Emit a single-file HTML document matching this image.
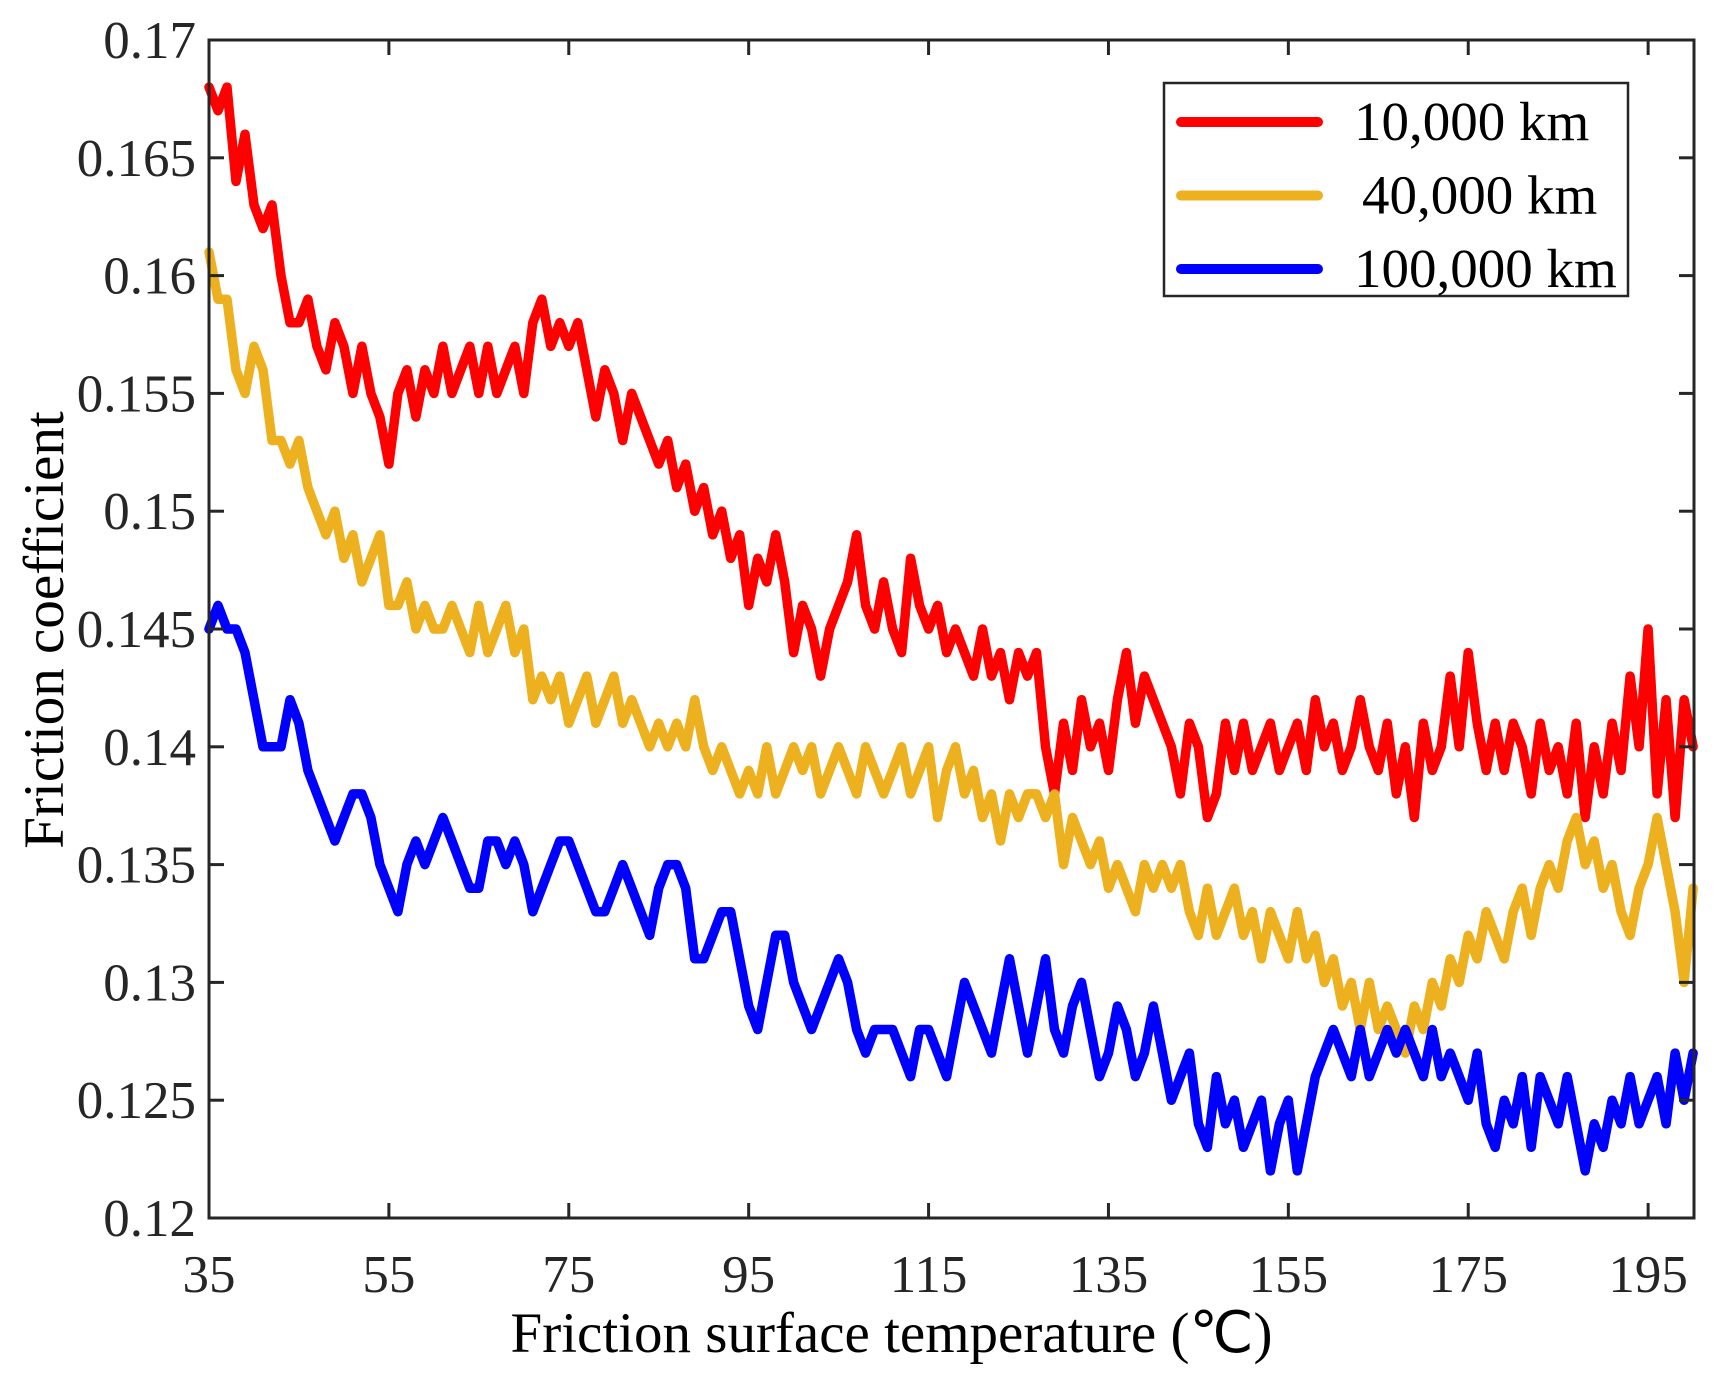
<!DOCTYPE html>
<html><head><meta charset="utf-8"><style>
html,body{margin:0;padding:0;background:#fff}
svg{display:block;font-family:"Liberation Serif",serif}
</style></head><body>
<svg id="chart" width="1724" height="1374" viewBox="0 0 1724 1374" xmlns="http://www.w3.org/2000/svg">
<g id="plot"></g><g id="axes"></g>
</svg>
<script>
const xTicks=[35,55,75,95,115,135,155,175,195];
const yTicks=[0.12,0.125,0.13,0.135,0.14,0.145,0.15,0.155,0.16,0.165,0.17];
const yTickLabels=["0.12","0.125","0.13","0.135","0.14","0.145","0.15","0.155","0.16","0.165","0.17"];
const xStart=35;
const seriesNames=["10,000 km","40,000 km","100,000 km"];
const seriesColors=["#ff0000","#edb120","#0000ff"];
const red=[0.168,0.167,0.168,0.164,0.166,0.163,0.162,0.163,0.160,0.158,0.158,0.159,0.157,0.156,0.158,0.157,0.155,0.157,0.155,0.154,0.152,0.155,0.156,0.154,0.156,0.155,0.157,0.155,0.156,0.157,0.155,0.157,0.155,0.156,0.157,0.155,0.158,0.159,0.157,0.158,0.157,0.158,0.156,0.154,0.156,0.155,0.153,0.155,0.154,0.153,0.152,0.153,0.151,0.152,0.150,0.151,0.149,0.150,0.148,0.149,0.146,0.148,0.147,0.149,0.147,0.144,0.146,0.145,0.143,0.145,0.146,0.147,0.149,0.146,0.145,0.147,0.145,0.144,0.148,0.146,0.145,0.146,0.144,0.145,0.144,0.143,0.145,0.143,0.144,0.142,0.144,0.143,0.144,0.140,0.138,0.141,0.139,0.142,0.140,0.141,0.139,0.142,0.144,0.141,0.143,0.142,0.141,0.140,0.138,0.141,0.140,0.137,0.138,0.141,0.139,0.141,0.139,0.140,0.141,0.139,0.140,0.141,0.139,0.142,0.140,0.141,0.139,0.140,0.142,0.140,0.139,0.141,0.138,0.140,0.137,0.141,0.139,0.140,0.143,0.140,0.144,0.141,0.139,0.141,0.139,0.141,0.140,0.138,0.141,0.139,0.140,0.138,0.141,0.137,0.140,0.138,0.141,0.139,0.143,0.140,0.145,0.138,0.142,0.137,0.142,0.140];
const orange=[0.161,0.159,0.159,0.156,0.155,0.157,0.156,0.153,0.153,0.152,0.153,0.151,0.150,0.149,0.150,0.148,0.149,0.147,0.148,0.149,0.146,0.146,0.147,0.145,0.146,0.145,0.145,0.146,0.145,0.144,0.146,0.144,0.145,0.146,0.144,0.145,0.142,0.143,0.142,0.143,0.141,0.142,0.143,0.141,0.142,0.143,0.141,0.142,0.141,0.140,0.141,0.140,0.141,0.140,0.142,0.140,0.139,0.140,0.139,0.138,0.139,0.138,0.140,0.138,0.139,0.140,0.139,0.140,0.138,0.139,0.140,0.139,0.138,0.140,0.139,0.138,0.139,0.140,0.138,0.139,0.140,0.137,0.139,0.140,0.138,0.139,0.137,0.138,0.136,0.138,0.137,0.138,0.138,0.137,0.138,0.135,0.137,0.136,0.135,0.136,0.134,0.135,0.134,0.133,0.135,0.134,0.135,0.134,0.135,0.133,0.132,0.134,0.132,0.133,0.134,0.132,0.133,0.131,0.133,0.132,0.131,0.133,0.131,0.132,0.130,0.131,0.129,0.130,0.128,0.130,0.128,0.129,0.128,0.127,0.129,0.128,0.130,0.129,0.131,0.130,0.132,0.131,0.133,0.132,0.131,0.133,0.134,0.132,0.134,0.135,0.134,0.136,0.137,0.135,0.136,0.134,0.135,0.133,0.132,0.134,0.135,0.137,0.135,0.133,0.130,0.134];
const blue=[0.145,0.146,0.145,0.145,0.144,0.142,0.140,0.140,0.140,0.142,0.141,0.139,0.138,0.137,0.136,0.137,0.138,0.138,0.137,0.135,0.134,0.133,0.135,0.136,0.135,0.136,0.137,0.136,0.135,0.134,0.134,0.136,0.136,0.135,0.136,0.135,0.133,0.134,0.135,0.136,0.136,0.135,0.134,0.133,0.133,0.134,0.135,0.134,0.133,0.132,0.134,0.135,0.135,0.134,0.131,0.131,0.132,0.133,0.133,0.131,0.129,0.128,0.130,0.132,0.132,0.130,0.129,0.128,0.129,0.130,0.131,0.130,0.128,0.127,0.128,0.128,0.128,0.127,0.126,0.128,0.128,0.127,0.126,0.128,0.130,0.129,0.128,0.127,0.129,0.131,0.129,0.127,0.129,0.131,0.128,0.127,0.129,0.130,0.128,0.126,0.127,0.129,0.128,0.126,0.127,0.129,0.127,0.125,0.126,0.127,0.124,0.123,0.126,0.124,0.125,0.123,0.124,0.125,0.122,0.124,0.125,0.122,0.124,0.126,0.127,0.128,0.127,0.126,0.128,0.126,0.127,0.128,0.127,0.128,0.127,0.126,0.128,0.126,0.127,0.126,0.125,0.127,0.124,0.123,0.125,0.124,0.126,0.123,0.126,0.125,0.124,0.126,0.124,0.122,0.124,0.123,0.125,0.124,0.126,0.124,0.125,0.126,0.124,0.127,0.125,0.127];
const L=209,R=1694,T=40,B=1218;
const xMin=35,xMax=200.1,yMin=0.12,yMax=0.17;
const xs=v=>L+(v-xMin)/(xMax-xMin)*(R-L);
const ys=v=>B-(v-yMin)/(yMax-yMin)*(B-T);
const NS="http://www.w3.org/2000/svg";
function mk(tag,attrs,parent){const e=document.createElementNS(NS,tag);for(const k in attrs)e.setAttribute(k,attrs[k]);parent.appendChild(e);return e;}
const plot=document.getElementById('plot'),axes=document.getElementById('axes');
[red,orange,blue].forEach((s,i)=>{
  const d=s.map((v,j)=>(j?'L':'M')+xs(xStart+j).toFixed(1)+','+ys(v).toFixed(1)).join('');
  const p=mk('path',{d:d,fill:'none',stroke:seriesColors[i],'stroke-width':9.5,'stroke-linejoin':'round','stroke-linecap':'round'},plot);
  
  
});
const frame=mk('rect',{x:L,y:T,width:R-L,height:B-T,fill:'none',stroke:'#262626','stroke-width':3},axes);


xTicks.forEach(t=>{
  const x=xs(t);
  mk('line',{x1:x,y1:B,x2:x,y2:B-15,stroke:'#262626','stroke-width':3},axes);
  mk('line',{x1:x,y1:T,x2:x,y2:T+15,stroke:'#262626','stroke-width':3},axes);
  const tx=mk('text',{x:x,y:1292,'text-anchor':'middle','font-size':53,fill:'#262626'},axes);
  tx.textContent=t;
  
  
});
yTicks.forEach((t,i)=>{
  const y=ys(t);
  mk('line',{x1:L,y1:y,x2:L+15,y2:y,stroke:'#262626','stroke-width':3},axes);
  mk('line',{x1:R,y1:y,x2:R-15,y2:y,stroke:'#262626','stroke-width':3},axes);
  const tx=mk('text',{x:196,y:y+18,'text-anchor':'end','font-size':53,fill:'#262626'},axes);
  tx.textContent=yTickLabels[i];
  
  
});
const xt=mk('text',{x:(L+R)/2-60,y:1352,'text-anchor':'middle','font-size':57,fill:'#000'},axes);
xt.textContent='Friction surface temperature (℃)';


const yt=mk('text',{x:0,y:0,'text-anchor':'middle','font-size':57,fill:'#000',transform:'translate(62,630) rotate(-90)'},axes);
yt.setAttribute('transform','translate(64,630) rotate(-90)');
yt.textContent='Friction coefficient';


yt.setAttribute('transform','translate(50,630) rotate(-90)');
yt.setAttribute('dominant-baseline','middle');
const lg=mk('g',{},axes);


mk('rect',{x:1164,y:83,width:464,height:213,fill:'#fff',stroke:'#262626','stroke-width':2.5},lg);
seriesNames.forEach((n,i)=>{
  const y=122+i*73.5;
  const ln=mk('line',{x1:1181,y1:y,x2:1318,y2:y,stroke:seriesColors[i],'stroke-width':10,'stroke-linecap':'round'},lg);
  
  
  const tx=mk('text',{x:i==1?1362:1354,y:y+18,'font-size':55,fill:'#000'},lg);
  tx.textContent=n;
  
  
});
</script>
</body></html>
